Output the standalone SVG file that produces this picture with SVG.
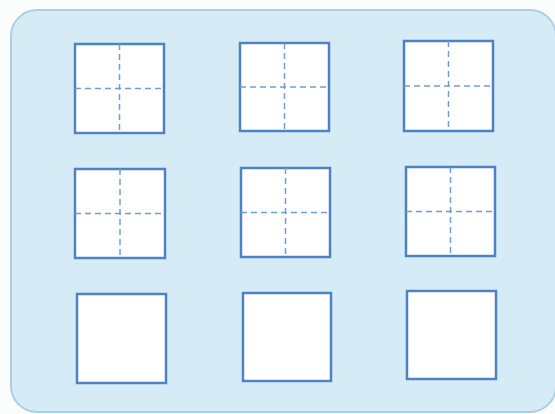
<svg xmlns="http://www.w3.org/2000/svg" width="555" height="414" viewBox="0 0 555 414">
<style>
.sq{fill:#ffffff;stroke:#4f82c4;stroke-width:2.5}
.dash{stroke:#6f9fd2;stroke-width:1.5;stroke-dasharray:6 4;fill:none}
</style>
<rect x="0" y="0" width="555" height="414" fill="#fbfdfd"/>
<rect x="11" y="10" width="545" height="402" rx="26" ry="26" fill="#d5ebf6" stroke="#a9cfe6" stroke-width="2"/>
<g id="s1"><rect class="sq" x="75" y="44" width="89" height="89"/><path class="dash" d="M119.5 44V133M75 88.5H164"/></g>
<g id="s2"><rect class="sq" x="240" y="43" width="89" height="88"/><path class="dash" d="M284.5 43V131M240 87H329"/></g>
<g id="s3"><rect class="sq" x="404" y="41" width="89" height="90"/><path class="dash" d="M448.5 41V131M404 86H493"/></g>
<g id="s4"><rect class="sq" x="75" y="169" width="90" height="89"/><path class="dash" d="M120 169V258M75 213.5H165"/></g>
<g id="s5"><rect class="sq" x="241" y="168" width="89" height="89"/><path class="dash" d="M285.5 168V257M241 212.5H330"/></g>
<g id="s6"><rect class="sq" x="406" y="167" width="89" height="89"/><path class="dash" d="M450.5 167V256M406 211.5H495"/></g>
<g id="s7"><rect class="sq" x="77" y="294" width="89" height="89"/></g>
<g id="s8"><rect class="sq" x="243" y="293" width="88" height="88"/></g>
<g id="s9"><rect class="sq" x="407" y="291" width="89" height="88"/></g>
<g id="connectors"/>
</svg>
